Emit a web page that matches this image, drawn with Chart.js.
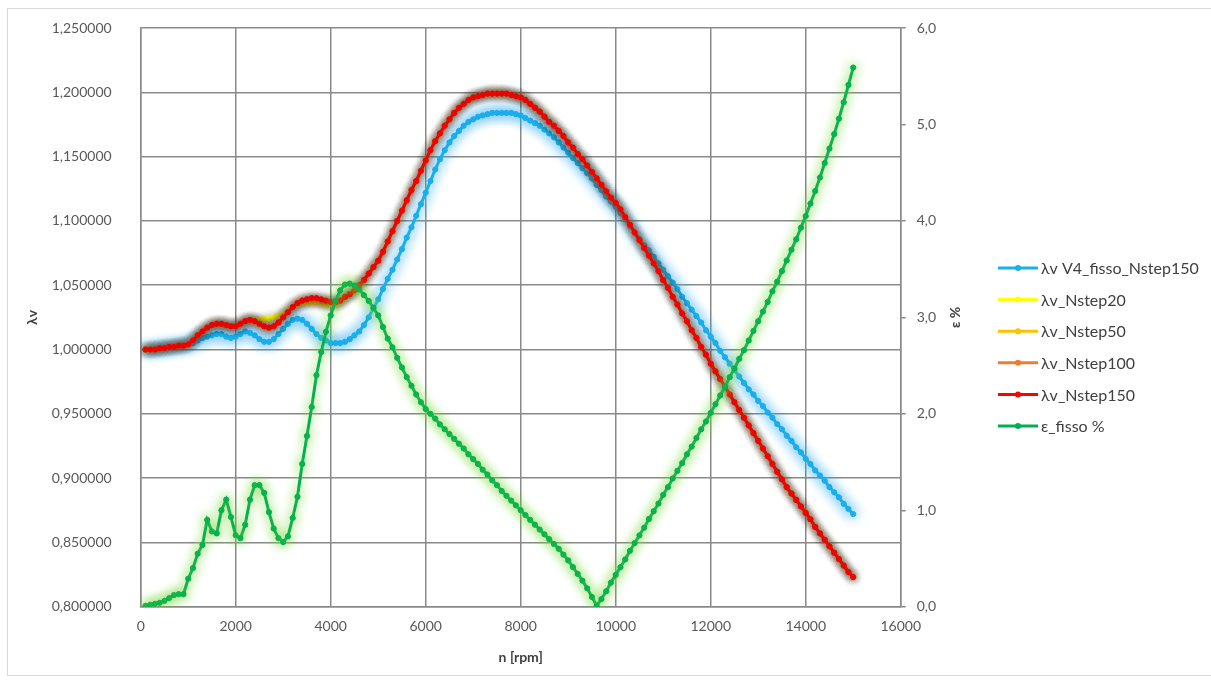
<!DOCTYPE html>
<html>
<head>
<meta charset="utf-8">
<script src="https://cdn.jsdelivr.net/npm/chart.js@4.4.1/dist/chart.umd.min.js"></script>
<style>
  html, body { margin: 0; padding: 0; background: #fff; }
  canvas { display: block; }
</style>
</head>
<body>
<canvas id="lambdaChart" width="1211" height="683"></canvas>
<script>
// n [rpm]
const rpm = [
    100, 200, 300, 400, 500, 600, 700, 800, 900, 1000,
    1100, 1200, 1300, 1400, 1500, 1600, 1700, 1800, 1900, 2000,
    2100, 2200, 2300, 2400, 2500, 2600, 2700, 2800, 2900, 3000,
    3100, 3200, 3300, 3400, 3500, 3600, 3700, 3800, 3900, 4000,
    4100, 4200, 4300, 4400, 4500, 4600, 4700, 4800, 4900, 5000,
    5100, 5200, 5300, 5400, 5500, 5600, 5700, 5800, 5900, 6000,
    6100, 6200, 6300, 6400, 6500, 6600, 6700, 6800, 6900, 7000,
    7100, 7200, 7300, 7400, 7500, 7600, 7700, 7800, 7900, 8000,
    8100, 8200, 8300, 8400, 8500, 8600, 8700, 8800, 8900, 9000,
    9100, 9200, 9300, 9400, 9500, 9600, 9700, 9800, 9900, 10000,
    10100, 10200, 10300, 10400, 10500, 10600, 10700, 10800, 10900, 11000,
    11100, 11200, 11300, 11400, 11500, 11600, 11700, 11800, 11900, 12000,
    12100, 12200, 12300, 12400, 12500, 12600, 12700, 12800, 12900, 13000,
    13100, 13200, 13300, 13400, 13500, 13600, 13700, 13800, 13900, 14000,
    14100, 14200, 14300, 14400, 14500, 14600, 14700, 14800, 14900, 15000
];

const lvFisso = [
    1.000, 1.000, 1.000, 1.001, 1.001, 1.002, 1.002, 1.003, 1.003, 1.004,
    1.005, 1.007, 1.009, 1.010, 1.011, 1.012, 1.012, 1.010, 1.009, 1.010,
    1.012, 1.014, 1.013, 1.011, 1.008, 1.006, 1.006, 1.008, 1.012, 1.016,
    1.020, 1.023, 1.024, 1.023, 1.020, 1.016, 1.012, 1.009, 1.007, 1.005,
    1.005, 1.005, 1.006, 1.008, 1.011, 1.014, 1.019, 1.025, 1.032, 1.039,
    1.047, 1.055, 1.062, 1.070, 1.078, 1.087, 1.095, 1.104, 1.113, 1.122,
    1.131, 1.140, 1.148, 1.155, 1.161, 1.166, 1.170, 1.174, 1.177, 1.179,
    1.181, 1.182, 1.183, 1.184, 1.184, 1.184, 1.184, 1.184, 1.183, 1.182,
    1.180, 1.178, 1.176, 1.174, 1.171, 1.168, 1.165, 1.161, 1.157, 1.153,
    1.149, 1.145, 1.141, 1.137, 1.133, 1.128, 1.124, 1.119, 1.115, 1.111,
    1.106, 1.101, 1.096, 1.091, 1.086, 1.081, 1.077, 1.072, 1.067, 1.062,
    1.057, 1.052, 1.047, 1.041, 1.036, 1.031, 1.026, 1.021, 1.015, 1.010,
    1.005, 0.999, 0.994, 0.989, 0.984, 0.979, 0.974, 0.969, 0.965, 0.960,
    0.956, 0.951, 0.947, 0.942, 0.938, 0.933, 0.929, 0.924, 0.920, 0.915,
    0.911, 0.906, 0.902, 0.898, 0.893, 0.889, 0.885, 0.880, 0.876, 0.872
];

const lvStep20 = [
    1.000, 1.000, 1.000, 1.001, 1.001, 1.002, 1.002, 1.003, 1.003, 1.004,
    1.007, 1.011, 1.014, 1.017, 1.019, 1.020, 1.020, 1.019, 1.018, 1.018,
    1.020, 1.022, 1.023, 1.023, 1.023, 1.024, 1.024, 1.025, 1.026, 1.028,
    1.030, 1.033, 1.035, 1.036, 1.037, 1.037, 1.037, 1.036, 1.035, 1.035,
    1.035, 1.037, 1.040, 1.043, 1.046, 1.050, 1.054, 1.059, 1.064, 1.069,
    1.076, 1.084, 1.092, 1.100, 1.108, 1.116, 1.124, 1.131, 1.139, 1.147,
    1.155, 1.162, 1.168, 1.174, 1.179, 1.184, 1.188, 1.191, 1.194, 1.196,
    1.197, 1.198, 1.199, 1.199, 1.199, 1.199, 1.199, 1.198, 1.197, 1.196,
    1.194, 1.191, 1.188, 1.185, 1.181, 1.177, 1.174, 1.170, 1.166, 1.161,
    1.157, 1.152, 1.148, 1.143, 1.138, 1.133, 1.128, 1.123, 1.118, 1.114,
    1.109, 1.103, 1.097, 1.091, 1.085, 1.079, 1.073, 1.067, 1.061, 1.054,
    1.048, 1.041, 1.035, 1.028, 1.022, 1.015, 1.009, 1.002, 0.996, 0.989,
    0.983, 0.977, 0.971, 0.965, 0.959, 0.953, 0.947, 0.941, 0.935, 0.929,
    0.923, 0.917, 0.911, 0.905, 0.899, 0.893, 0.888, 0.883, 0.878, 0.873,
    0.868, 0.862, 0.857, 0.852, 0.847, 0.842, 0.837, 0.832, 0.827, 0.823
];

const lvStep50 = [
    1.000, 1.000, 1.000, 1.001, 1.001, 1.002, 1.002, 1.003, 1.003, 1.004,
    1.007, 1.011, 1.014, 1.017, 1.019, 1.020, 1.020, 1.019, 1.018, 1.018,
    1.020, 1.022, 1.023, 1.022, 1.020, 1.018, 1.017, 1.018, 1.021, 1.025,
    1.029, 1.033, 1.035, 1.036, 1.037, 1.037, 1.037, 1.037, 1.036, 1.036,
    1.036, 1.038, 1.041, 1.043, 1.046, 1.050, 1.054, 1.059, 1.064, 1.069,
    1.076, 1.084, 1.092, 1.100, 1.108, 1.116, 1.124, 1.131, 1.139, 1.147,
    1.155, 1.162, 1.168, 1.174, 1.179, 1.184, 1.188, 1.191, 1.194, 1.196,
    1.197, 1.198, 1.199, 1.199, 1.199, 1.199, 1.199, 1.198, 1.197, 1.196,
    1.194, 1.191, 1.188, 1.185, 1.181, 1.177, 1.174, 1.170, 1.166, 1.161,
    1.157, 1.152, 1.148, 1.143, 1.138, 1.133, 1.128, 1.123, 1.118, 1.114,
    1.109, 1.103, 1.097, 1.091, 1.085, 1.079, 1.073, 1.067, 1.061, 1.054,
    1.048, 1.041, 1.035, 1.028, 1.022, 1.015, 1.009, 1.002, 0.996, 0.989,
    0.983, 0.977, 0.971, 0.965, 0.959, 0.953, 0.947, 0.941, 0.935, 0.929,
    0.923, 0.917, 0.911, 0.905, 0.899, 0.893, 0.888, 0.883, 0.878, 0.873,
    0.868, 0.862, 0.857, 0.852, 0.847, 0.842, 0.837, 0.832, 0.827, 0.823
];

const lvStep100 = [
    1.000, 1.000, 1.000, 1.001, 1.001, 1.002, 1.002, 1.003, 1.003, 1.004,
    1.007, 1.011, 1.014, 1.017, 1.019, 1.020, 1.020, 1.019, 1.018, 1.018,
    1.020, 1.022, 1.023, 1.022, 1.020, 1.018, 1.017, 1.018, 1.021, 1.025,
    1.029, 1.033, 1.036, 1.038, 1.039, 1.039, 1.039, 1.038, 1.037, 1.037,
    1.037, 1.038, 1.041, 1.043, 1.046, 1.050, 1.054, 1.059, 1.064, 1.069,
    1.076, 1.084, 1.092, 1.100, 1.108, 1.116, 1.124, 1.131, 1.139, 1.147,
    1.155, 1.162, 1.168, 1.174, 1.179, 1.184, 1.188, 1.191, 1.194, 1.196,
    1.197, 1.198, 1.199, 1.199, 1.199, 1.199, 1.199, 1.198, 1.197, 1.196,
    1.194, 1.191, 1.188, 1.185, 1.181, 1.177, 1.174, 1.170, 1.166, 1.161,
    1.157, 1.152, 1.148, 1.143, 1.138, 1.133, 1.128, 1.123, 1.118, 1.114,
    1.109, 1.103, 1.097, 1.091, 1.085, 1.079, 1.073, 1.067, 1.061, 1.054,
    1.048, 1.041, 1.035, 1.028, 1.022, 1.015, 1.009, 1.002, 0.996, 0.989,
    0.983, 0.977, 0.971, 0.965, 0.959, 0.953, 0.947, 0.941, 0.935, 0.929,
    0.923, 0.917, 0.911, 0.905, 0.899, 0.893, 0.888, 0.883, 0.878, 0.873,
    0.868, 0.862, 0.857, 0.852, 0.847, 0.842, 0.837, 0.832, 0.827, 0.823
];

const lvStep150 = [
    1.000, 1.000, 1.000, 1.001, 1.001, 1.002, 1.002, 1.003, 1.003, 1.004,
    1.007, 1.011, 1.014, 1.017, 1.019, 1.020, 1.020, 1.019, 1.018, 1.018,
    1.020, 1.022, 1.023, 1.022, 1.020, 1.018, 1.017, 1.018, 1.021, 1.025,
    1.029, 1.033, 1.036, 1.038, 1.039, 1.040, 1.040, 1.039, 1.038, 1.037,
    1.037, 1.038, 1.041, 1.043, 1.046, 1.050, 1.054, 1.059, 1.064, 1.069,
    1.076, 1.084, 1.092, 1.100, 1.108, 1.116, 1.124, 1.131, 1.139, 1.147,
    1.155, 1.162, 1.168, 1.174, 1.179, 1.184, 1.188, 1.191, 1.194, 1.196,
    1.197, 1.198, 1.199, 1.199, 1.199, 1.199, 1.199, 1.198, 1.197, 1.196,
    1.194, 1.191, 1.188, 1.185, 1.181, 1.177, 1.174, 1.170, 1.166, 1.161,
    1.157, 1.152, 1.148, 1.143, 1.138, 1.133, 1.128, 1.123, 1.118, 1.114,
    1.109, 1.103, 1.097, 1.091, 1.085, 1.079, 1.073, 1.067, 1.061, 1.054,
    1.048, 1.041, 1.035, 1.028, 1.022, 1.015, 1.009, 1.002, 0.996, 0.989,
    0.983, 0.977, 0.971, 0.965, 0.959, 0.953, 0.947, 0.941, 0.935, 0.929,
    0.923, 0.917, 0.911, 0.905, 0.899, 0.893, 0.888, 0.883, 0.878, 0.873,
    0.868, 0.862, 0.857, 0.852, 0.847, 0.842, 0.837, 0.832, 0.827, 0.823
];

// ε_fisso %
const epsFisso = [
    0.01, 0.02, 0.03, 0.04, 0.06, 0.09, 0.12, 0.13, 0.13, 0.29,
    0.40, 0.55, 0.64, 0.90, 0.78, 0.76, 1.00, 1.11, 0.93, 0.74,
    0.71, 0.85, 1.11, 1.26, 1.26, 1.18, 0.98, 0.81, 0.71, 0.67,
    0.73, 0.92, 1.14, 1.48, 1.77, 2.07, 2.40, 2.64, 2.85, 3.02,
    3.17, 3.28, 3.34, 3.35, 3.33, 3.29, 3.23, 3.17, 3.10, 3.02,
    2.90, 2.78, 2.69, 2.58, 2.48, 2.38, 2.29, 2.20, 2.12, 2.05,
    2.00, 1.95, 1.89, 1.84, 1.79, 1.74, 1.69, 1.64, 1.58, 1.53,
    1.48, 1.42, 1.37, 1.31, 1.26, 1.20, 1.15, 1.10, 1.05, 1.00,
    0.95, 0.90, 0.85, 0.80, 0.75, 0.70, 0.65, 0.60, 0.54, 0.48,
    0.41, 0.34, 0.27, 0.19, 0.10, 0.01, 0.08, 0.16, 0.25, 0.33,
    0.41, 0.49, 0.58, 0.66, 0.74, 0.82, 0.91, 0.99, 1.07, 1.16,
    1.24, 1.33, 1.41, 1.49, 1.58, 1.66, 1.75, 1.84, 1.92, 2.01,
    2.10, 2.19, 2.28, 2.38, 2.47, 2.57, 2.66, 2.76, 2.86, 2.96,
    3.06, 3.16, 3.27, 3.37, 3.48, 3.59, 3.70, 3.81, 3.93, 4.05,
    4.18, 4.31, 4.45, 4.60, 4.75, 4.90, 5.06, 5.23, 5.41, 5.59
];

const xTicks = [0, 2000, 4000, 6000, 8000, 10000, 12000, 14000, 16000];

const FONT = 'Lato, "Liberation Sans", sans-serif';
const GRID = '#8a8a8a';

function toPoints(vals) {
    return rpm.map((x, i) => ({ x: x, y: vals[i] }));
}

function serie(label, vals, color, glow, blur, axis, order) {
    return {
        label: label,
        data: toPoints(vals),
        yAxisID: axis,
        borderColor: color,
        backgroundColor: color,
        pointBackgroundColor: color,
        pointBorderColor: color,
        borderWidth: 3,
        pointRadius: 2.6,
        pointBorderWidth: 1,
        tension: 0,
        glow: glow,
        blur: blur,
        order: order
    };
}

const datasets = [
    serie('λv V4_fisso_Nstep150', lvFisso, '#1ab0ea', 'rgba(60,180,245,0.85)', 12, 'y', 5),
    serie('λv_Nstep20', lvStep20, '#ffff00', 'rgba(120,110,90,0.3)', 7, 'y', 4),
    serie('λv_Nstep50', lvStep50, '#ffc000', 'rgba(120,110,90,0.3)', 7, 'y', 3),
    serie('λv_Nstep100', lvStep100, '#ed7d31', 'rgba(120,110,90,0.3)', 7, 'y', 2),
    serie('λv_Nstep150', lvStep150, '#ff0000', 'rgba(90,70,50,0.5)', 7, 'y', 1),
    serie('ε_fisso %', epsFisso, '#00b050', 'rgba(130,220,70,0.9)', 11, 'y2', 0)
];

// Excel style soft glow round each series
const glowPlugin = {
    id: 'glow',
    beforeDatasetDraw(chart, args) {
        const ds = chart.data.datasets[args.index];
        chart.ctx.save();
        chart.ctx.shadowColor = ds.glow;
        chart.ctx.shadowBlur = ds.blur;
    },
    afterDatasetDraw(chart) {
        chart.ctx.restore();
    }
};

const framePlugin = {
    id: 'frame',
    beforeDraw(chart) {
        const ctx = chart.ctx;
        ctx.save();
        ctx.fillStyle = '#fff';
        ctx.fillRect(0, 0, chart.width, chart.height);
        ctx.strokeStyle = '#d9d9d9';
        ctx.lineWidth = 1;
        ctx.strokeRect(7.5, 8.5, 1215, 667);
        ctx.restore();
    },
    afterDraw(chart) {
        const ctx = chart.ctx;
        ctx.save();
        // right axis title, read bottom to top like the left one
        ctx.translate(955, (chart.chartArea.top + chart.chartArea.bottom) / 2);
        ctx.rotate(-Math.PI / 2);
        ctx.font = 'bold 14px ' + FONT;
        ctx.fillStyle = '#404040';
        ctx.textAlign = 'center';
        ctx.textBaseline = 'middle';
        ctx.fillText('ε %', 0, 0);
        ctx.restore();

        // legend: line with marker, then text
        ctx.save();
        ctx.font = '16px ' + FONT;
        ctx.textBaseline = 'middle';
        chart.data.datasets.forEach((ds, i) => {
            const y = 268 + i * 31.6;
            ctx.strokeStyle = ds.borderColor;
            ctx.lineWidth = 3;
            ctx.beginPath();
            ctx.moveTo(998, y);
            ctx.lineTo(1038, y);
            ctx.stroke();
            ctx.fillStyle = ds.borderColor;
            ctx.beginPath();
            ctx.arc(1018, y, 3, 0, Math.PI * 2);
            ctx.fill();
            ctx.fillStyle = '#404040';
            ctx.fillText(ds.label, 1041, y + 1);
        });
        ctx.restore();
    }
};

// fixed axis sizes, so the plot area sits where the Excel one does
function fixWidth(w) {
    return (scale) => {
        scale.width = w;
        scale.paddingTop = 0;
        scale.paddingBottom = 0;
    };
}

new Chart(document.getElementById('lambdaChart'), {
    type: 'line',
    data: { datasets: datasets },
    options: {
        responsive: false,
        animation: false,
        events: [],
        layout: {
            padding: { top: 28, right: 221.3, bottom: 0, left: 0 }
        },
        plugins: {
            legend: { display: false },
            tooltip: { enabled: false }
        },
        scales: {
            x: {
                type: 'linear',
                min: 0,
                max: 16000,
                afterBuildTicks: (scale) => {
                    scale.ticks = xTicks.map(v => ({ value: v }));
                },
                ticks: {
                    callback: (v) => String(v),
                    font: { family: FONT, size: 14 },
                    color: '#595959',
                    padding: 11,
                    maxRotation: 0
                },
                grid: { color: GRID, lineWidth: 1.5, drawTicks: false },
                border: { display: true, color: GRID, width: 1.5 },
                title: {
                    display: true,
                    text: 'n [rpm]',
                    font: { family: FONT, size: 14, weight: 'bold' },
                    color: '#404040',
                    padding: { top: 0, bottom: 17 }
                },
                afterFit: (scale) => { scale.height = 76.3; }
            },
            y: {
                position: 'left',
                min: 0.8,
                max: 1.25,
                ticks: {
                    stepSize: 0.05,
                    callback: (v) => v.toFixed(6).replace('.', ','),
                    font: { family: FONT, size: 14 },
                    color: '#595959',
                    padding: 29
                },
                grid: { color: GRID, lineWidth: 1.5, drawTicks: false },
                border: { display: true, color: GRID, width: 1.5 },
                title: {
                    display: true,
                    text: 'λv',
                    font: { family: FONT, size: 14, weight: 'bold' },
                    color: '#404040',
                    padding: { top: 24, bottom: 0 }
                },
                afterFit: fixWidth(140.7)
            },
            y2: {
                position: 'right',
                min: 0,
                max: 6,
                ticks: {
                    stepSize: 1,
                    callback: (v) => v.toFixed(1).replace('.', ','),
                    font: { family: FONT, size: 14 },
                    color: '#595959',
                    padding: 11
                },
                grid: { drawOnChartArea: false, color: GRID, lineWidth: 1.5, tickLength: 5 },
                border: { display: true, color: GRID, width: 1.5 },
                afterFit: fixWidth(89)
            }
        }
    },
    plugins: [framePlugin, glowPlugin]
});
</script>
</body>
</html>
